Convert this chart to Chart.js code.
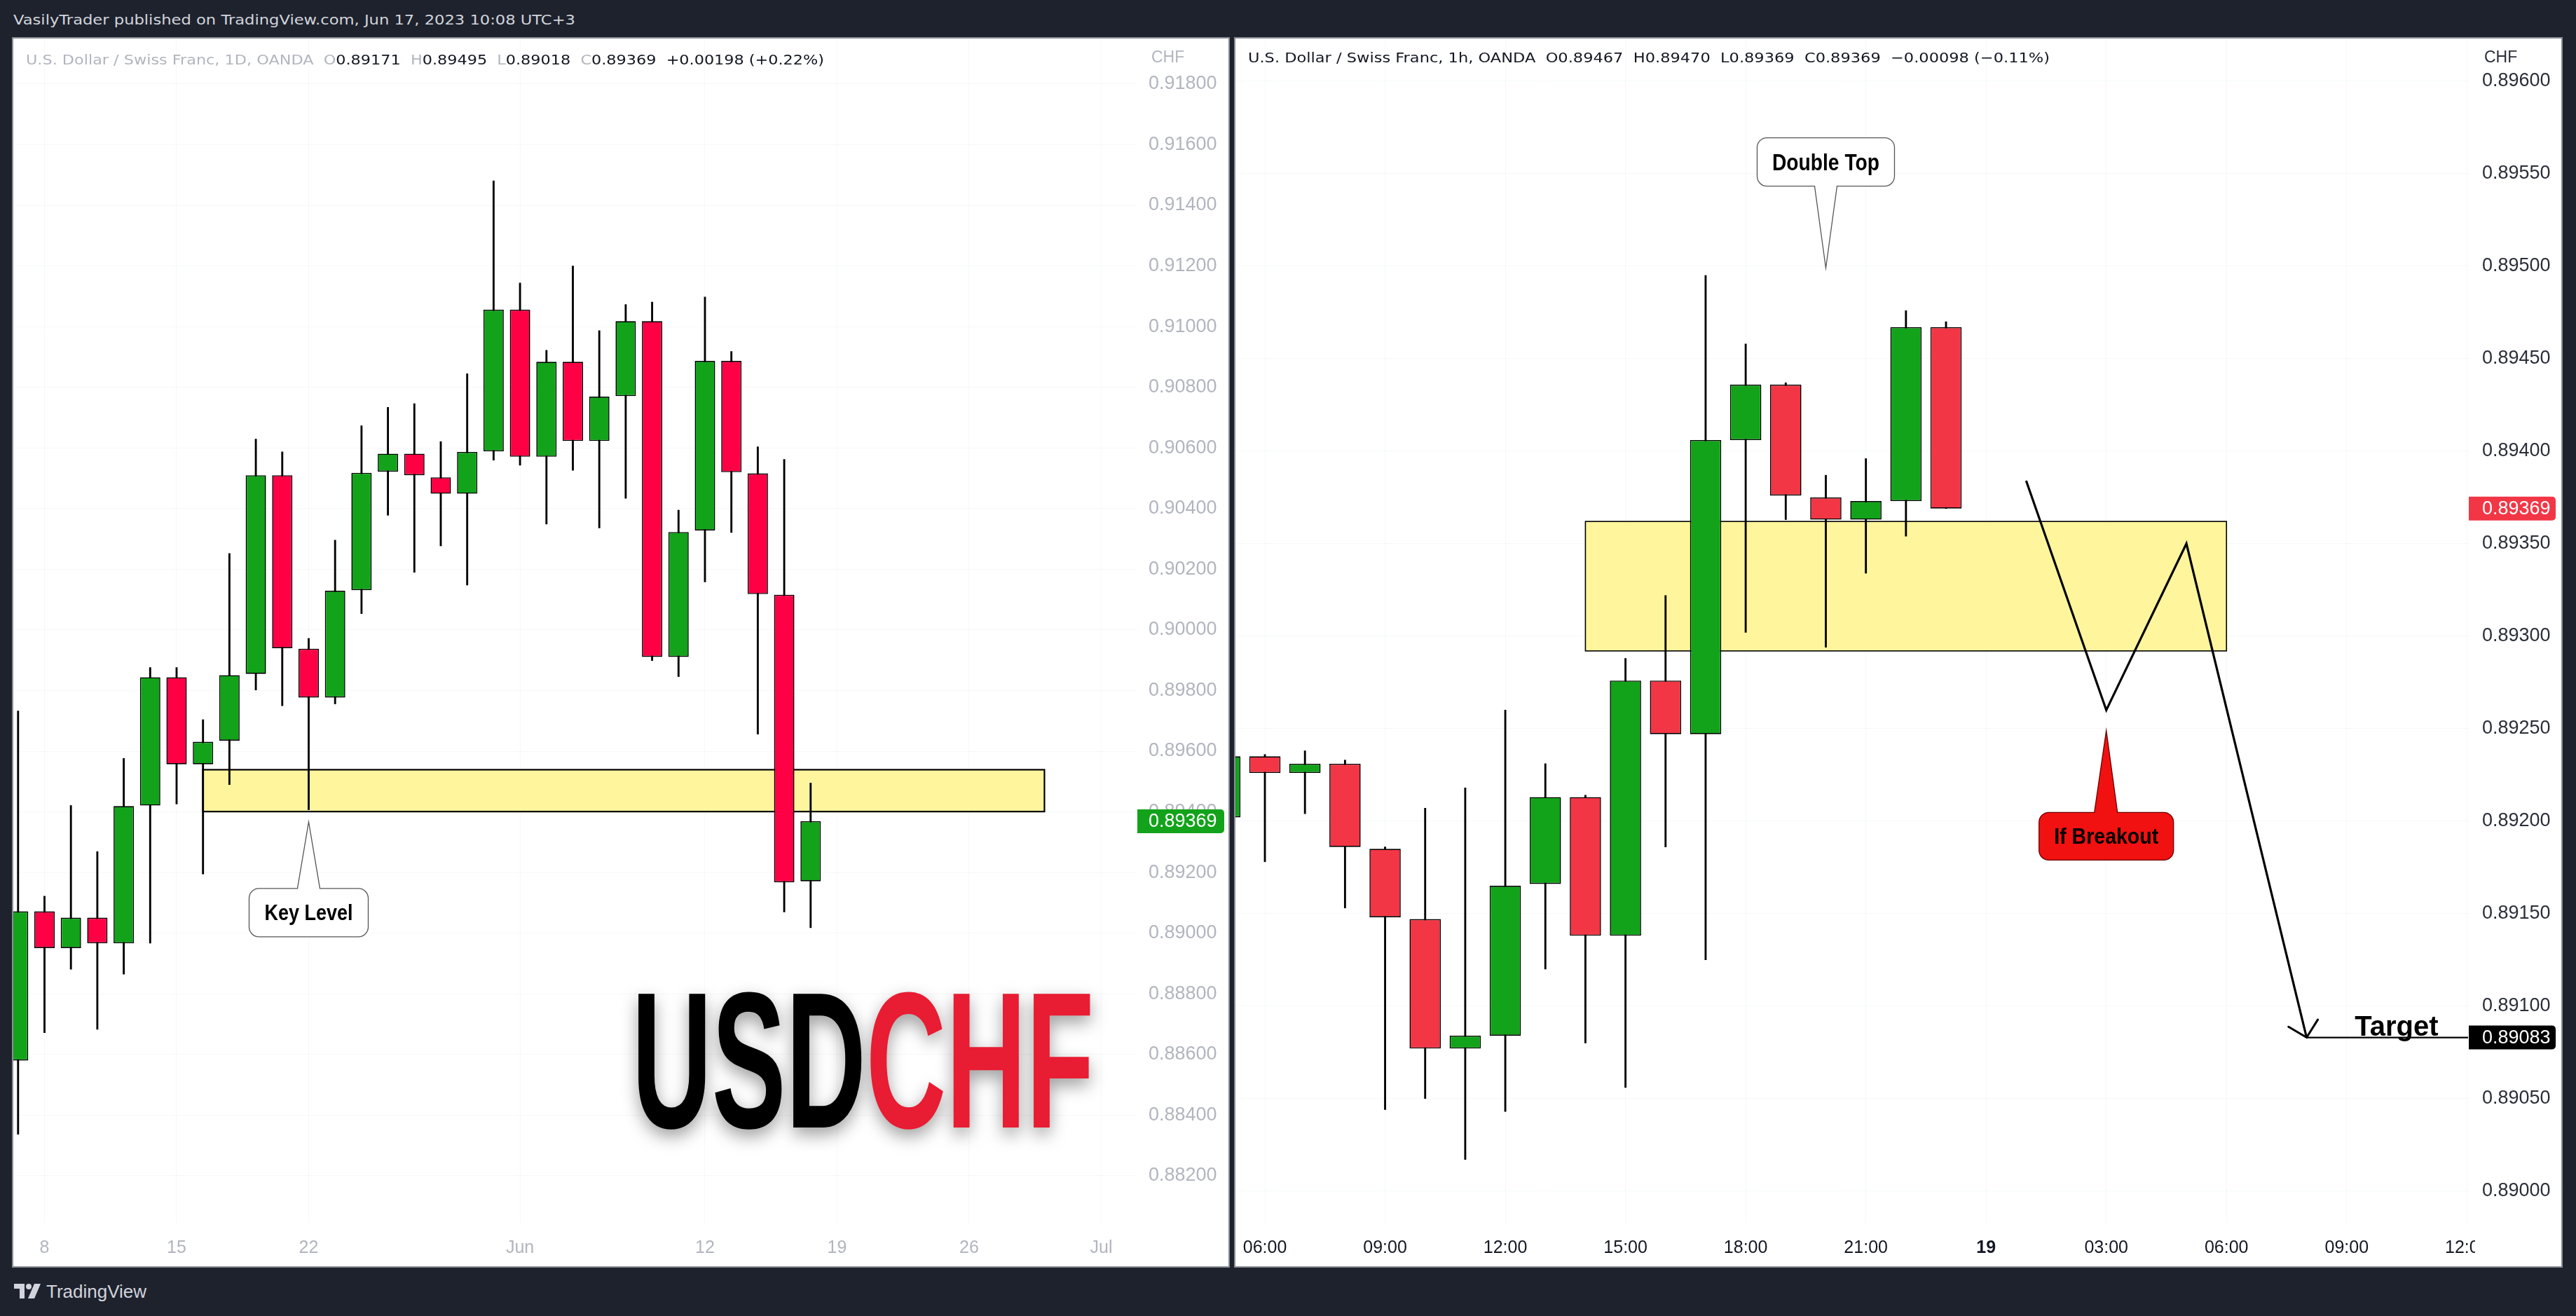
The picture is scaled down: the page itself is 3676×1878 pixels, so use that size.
<!DOCTYPE html>
<html><head><meta charset="utf-8">
<script src="https://cdn.jsdelivr.net/npm/chart.js@4.4.0/dist/chart.umd.min.js"></script>
<style>
html,body{margin:0;padding:0;background:#1e222d;width:3676px;height:1878px;overflow:hidden;font-family:"Liberation Sans",Arial,sans-serif;}
.panel{position:absolute;background:#fff;border:2px solid #8a8d96;box-sizing:border-box;}
.fit{position:absolute;white-space:pre;transform-origin:0 50%;line-height:1;}
.g{color:#b2b5be}
canvas{position:absolute;}
</style></head><body>
<div id="hdr" class="fit" style="left:19px;top:18px;font-size:20px;font-family:'DejaVu Sans';color:#d1d4dc">VasilyTrader published on TradingView.com, Jun 17, 2023 10:08 UTC+3</div>
<div class="panel" style="left:17px;top:53px;width:1738px;height:1756px"></div>
<div class="panel" style="left:1761px;top:53px;width:1896px;height:1756px"></div>
<canvas id="cL" style="left:19px;top:55px" width="1734" height="1752"></canvas>
<canvas id="cR" style="left:1763px;top:55px" width="1892" height="1752"></canvas>
<div id="legL" class="fit" style="left:37px;top:75px;font-size:20px;font-family:'DejaVu Sans';color:#131722"><span class="g">U.S. Dollar / Swiss Franc, 1D, OANDA  O</span>0.89171<span class="g">  H</span>0.89495<span class="g">  L</span>0.89018<span class="g">  C</span>0.89369  +0.00198 (+0.22%)</div>
<div id="legR" class="fit" style="left:1781px;top:72px;font-size:20px;font-family:'DejaVu Sans';color:#131722">U.S. Dollar / Swiss Franc, 1h, OANDA  O0.89467  H0.89470  L0.89369  C0.89369  −0.00098 (−0.11%)</div>
<div style="position:absolute;left:1643px;top:70px;font-size:23px;color:#b2b5be;line-height:1">CHF</div>
<div style="position:absolute;left:3545px;top:70px;font-size:23px;color:#2a2e39;line-height:1">CHF</div>
<svg style="position:absolute;left:20px;top:1832px" width="38" height="22" viewBox="0 0 38 22">
<path d="M0 0H15V21H8V7H0Z" fill="#d1d4dc"/><circle cx="21" cy="4" r="4" fill="#d1d4dc"/><path d="M29 0H38L29 21H20Z" fill="#d1d4dc"/></svg>
<div style="position:absolute;left:66px;top:1830px;font-size:26px;color:#d1d4dc;line-height:1">TradingView</div>
<script>
// ---------- Daily USD/CHF (left) ----------
const dayLabels = ['May 5','May 8','May 9','May 10','May 11','May 12','May 15','May 16','May 17','May 18','May 19','May 22','May 23','May 24','May 25','May 26','May 29','May 30','May 31','Jun 1','Jun 2','Jun 5','Jun 6','Jun 7','Jun 8','Jun 9','Jun 12','Jun 13','Jun 14','Jun 15','Jun 16'];
const dayOpen  = [0.88580,0.89072,0.88951,0.89051,0.88967,0.89421,0.89844,0.89557,0.89635,0.89855,0.90510,0.89938,0.89777,0.90131,0.90522,0.90581,0.90503,0.90449,0.90589,0.91056,0.90571,0.90884,0.90623,0.90771,0.91018,0.89911,0.90328,0.90887,0.90516,0.90116,0.89171];
const dayHigh  = [0.89733,0.89122,0.89421,0.89269,0.89576,0.89876,0.89876,0.89704,0.90252,0.90629,0.90587,0.89972,0.90296,0.90673,0.90734,0.90746,0.90621,0.90845,0.91481,0.91144,0.90922,0.91200,0.90987,0.91073,0.91081,0.90395,0.91098,0.90918,0.90604,0.90562,0.89495];
const dayLow   = [0.88337,0.88672,0.88881,0.88683,0.88865,0.88967,0.89426,0.89195,0.89490,0.89802,0.89750,0.89407,0.89756,0.90054,0.90378,0.90190,0.90277,0.90148,0.90560,0.90543,0.90349,0.90526,0.90336,0.90434,0.89899,0.89846,0.90158,0.90321,0.89656,0.89070,0.89018];
const dayClose = [0.89072,0.88951,0.89051,0.88967,0.89419,0.89844,0.89557,0.89631,0.89851,0.90510,0.89940,0.89777,0.90129,0.90518,0.90581,0.90510,0.90449,0.90587,0.91056,0.90571,0.90884,0.90623,0.90769,0.91018,0.89911,0.90323,0.90887,0.90520,0.90118,0.89168,0.89369];
const dayTickIdx    = [1,6,11,19,26,31,36,41];
const dayTickLabels = ['8','15','22','Jun','12','19','26','Jul'];
const dayPriceTicks = [0.882,0.884,0.886,0.888,0.890,0.892,0.894,0.896,0.898,0.900,0.902,0.904,0.906,0.908,0.910,0.912,0.914,0.916,0.918];
const dayRangeX = [-0.18, 42.34];
const dayRangeY = [0.88045, 0.91950];
const keyZoneX = [7, 38.85];
const keyZoneY = [0.89401, 0.89539];
const keyLevelTip = [11, 0.89367];

// ---------- Hourly USD/CHF (right) ----------
const hourIdx    = [-1,0,1,2,3,4,5,6,7,8,9,10,11,12,13,14,15,16,17];
const hourLabels = ['05:00','06:00','07:00','08:00','09:00','10:00','11:00','12:00','13:00','14:00','15:00','16:00','17:00','18:00','19:00','20:00','21:00','22:00','23:00'];
const hourOpen  = [0.89202,0.89235,0.89226,0.89231,0.89185,0.89147,0.89077,0.89084,0.89166,0.89213,0.89138,0.89276,0.89247,0.89406,0.89436,0.89375,0.89363,0.89373,0.89467];
const hourHigh  = [0.89240,0.89236,0.89238,0.89233,0.89186,0.89207,0.89218,0.89260,0.89231,0.89214,0.89288,0.89322,0.89495,0.89458,0.89437,0.89387,0.89396,0.89476,0.89470];
const hourLow   = [0.89195,0.89178,0.89204,0.89153,0.89044,0.89050,0.89017,0.89043,0.89120,0.89080,0.89056,0.89186,0.89125,0.89302,0.89363,0.89294,0.89334,0.89354,0.89369];
const hourClose = [0.89235,0.89226,0.89231,0.89186,0.89148,0.89077,0.89084,0.89165,0.89213,0.89138,0.89276,0.89247,0.89406,0.89436,0.89376,0.89363,0.89373,0.89467,0.89369];
const hourTickIdx    = [0,3,6,9,12,15,18,21,24,27,30];
const hourTickLabels = ['06:00','09:00','12:00','15:00','18:00','21:00','19','03:00','06:00','09:00','12:00'];
const hourPriceTicks = [0.8900,0.8905,0.8910,0.8915,0.8920,0.8925,0.8930,0.8935,0.8940,0.8945,0.8950,0.8955,0.8960];
const hourRangeX = [-0.735, 30.03];
const hourRangeY = [0.889828, 0.896231];
const hourZoneX = [8, 24];
const hourZoneY = [0.89292, 0.89362];
const pathX = [19, 21, 23, 26];
const pathY = [0.89384, 0.89260, 0.89350, 0.89083];
const targetPrice = 0.89083;
const targetLineX = [26, 30.03];
const targetLabelX = 27.2;
const doubleTopTip = [14, 0.89499];
const breakoutTip = [21, 0.89249];

// ---------- helpers ----------
const GREEN = '#12a31a', RED_L = '#ff0044', RED_R = '#f23645';
function fitText(ctx, text, cx, cy, size, width, color, weight){
  ctx.save();
  ctx.font = `${weight||'bold'} ${size}px "Liberation Sans", Arial, sans-serif`;
  const w = ctx.measureText(text).width;
  const sx = width / w;
  ctx.translate(cx, cy + size*0.358);
  ctx.scale(sx, 1);
  ctx.fillStyle = color; ctx.textAlign = 'center'; ctx.textBaseline = 'alphabetic';
  ctx.fillText(text, 0, 0);
  ctx.restore();
}
function callout(ctx, tx, ty, b, fill, stroke, text, tsize, twidth){
  const x0=tx+b.l, x1=tx+b.r, y0=ty+b.t, y1=ty+b.b, r=14, up=b.t>0;
  ctx.save();
  ctx.beginPath();
  ctx.moveTo(x0+r, y0);
  if(up){ ctx.lineTo(tx+b.bl, y0); ctx.lineTo(tx, ty); ctx.lineTo(tx+b.br, y0); }
  ctx.lineTo(x1-r, y0); ctx.arcTo(x1, y0, x1, y0+r, r);
  ctx.lineTo(x1, y1-r); ctx.arcTo(x1, y1, x1-r, y1, r);
  if(!up){ ctx.lineTo(tx+b.br, y1); ctx.lineTo(tx, ty); ctx.lineTo(tx+b.bl, y1); }
  ctx.lineTo(x0+r, y1); ctx.arcTo(x0, y1, x0, y1-r, r);
  ctx.lineTo(x0, y0+r); ctx.arcTo(x0, y0, x0+r, y0, r);
  ctx.closePath();
  ctx.fillStyle = fill; ctx.fill();
  ctx.lineWidth = 1.3; ctx.strokeStyle = stroke; ctx.stroke();
  ctx.restore();
  fitText(ctx, text, (x0+x1)/2, (y0+y1)/2, tsize, twidth, '#000');
}
function drawZone(chart, zx, zy, lw){
  const {ctx, scales:{x, y}} = chart;
  const l=x.getPixelForValue(zx[0]), r=x.getPixelForValue(zx[1]);
  const t=y.getPixelForValue(zy[1]), b=y.getPixelForValue(zy[0]);
  ctx.save();
  ctx.fillStyle = '#fff59d'; ctx.fillRect(l, t, r-l, b-t);
  ctx.lineWidth = lw; ctx.strokeStyle = '#000'; ctx.strokeRect(l, t, r-l, b-t);
  ctx.restore();
}
function priceTag(chart, value, bg){
  const {ctx, chartArea, scales:{y}} = chart;
  const py = y.getPixelForValue(value);
  const left = chartArea.right + 1, w = 124, h = 34;
  ctx.save();
  ctx.fillStyle = bg;
  ctx.beginPath(); ctx.roundRect(left, py-h/2, w, h, [0,5,5,0]); ctx.fill();
  ctx.fillStyle = '#fff'; ctx.font = '27px "Liberation Sans", Arial';
  ctx.textBaseline = 'middle'; ctx.textAlign = 'left';
  ctx.fillText(value.toFixed(5), chartArea.right + y.options.ticks.padding, py+1);
  ctx.restore();
}
function drawBrand(chart){
  const ctx = chart.ctx, a = chart.chartArea;
  const capH = 194, W = 647, X = a.left + 890, BASE = a.top + 1554;
  ctx.save();
  ctx.font = 'bold 100px "Liberation Sans", Arial';
  const h100 = ctx.measureText('H').actualBoundingBoxAscent;
  const size = 100*capH/h100;
  ctx.font = `bold ${size}px "Liberation Sans", Arial`;
  const m1 = ctx.measureText('USD'), m3 = ctx.measureText('USDCHF');
  const inkW = m3.actualBoundingBoxLeft + m3.actualBoundingBoxRight;
  const sx = W / inkW;
  ctx.translate(X, BASE); ctx.scale(sx, 1);
  const x0 = m3.actualBoundingBoxLeft;
  ctx.shadowColor = 'rgba(0,0,0,0.38)'; ctx.shadowBlur = 24; ctx.shadowOffsetY = 10;
  ctx.fillStyle = '#000'; ctx.fillText('USD', x0, 0);
  ctx.fillStyle = '#e81c32'; ctx.fillText('CHF', x0 + m1.width, 0);
  ctx.restore();
}
function axes(rangeX, rangeY, tickIdx, tickLabels, priceTicks, yWidth, yPad, labelColor, xLabelColor){
  return {
    x: { type:'linear', min:rangeX[0], max:rangeX[1], offset:false,
      grid:{ offset:false, color:'rgba(42,46,57,0.035)', drawTicks:false },
      border:{ display:false },
      afterBuildTicks: s => { s.ticks = tickIdx.map(v => ({value:v})); },
      afterFit: s => { s.height = 62; s.paddingLeft = 0; s.paddingRight = 0; s.paddingTop = 0; s.paddingBottom = 0; },
      ticks:{ autoSkip:false, maxRotation:0, padding:21, color:xLabelColor,
        callback: v => tickLabels[tickIdx.indexOf(v)],
        font: c => ({ size:25, family:'"Liberation Sans", Arial', weight: (c.tick && tickLabels[tickIdx.indexOf(c.tick.value)]==='19' && tickLabels.length>8) ? 'bold' : 'normal' }) }
    },
    y: { type:'linear', position:'right', min:rangeY[0], max:rangeY[1], beginAtZero:false,
      grid:{ color:'rgba(42,46,57,0.035)', drawTicks:false },
      border:{ display:false },
      afterBuildTicks: s => { s.ticks = priceTicks.map(v => ({value:v})); },
      afterFit: s => { s.width = yWidth; s.paddingTop = 0; s.paddingBottom = 0; s.paddingLeft = 0; s.paddingRight = 0; },
      ticks:{ autoSkip:false, padding:yPad, color:labelColor, crossAlign:'near',
        font:{ size:27, family:'"Liberation Sans", Arial' },
        callback: v => Number(v).toFixed(5) }
    }
  };
}
const commonOpts = {
  responsive:false, animation:false, devicePixelRatio:1,
  layout:{ padding:0 },
  plugins:{ legend:{display:false}, tooltip:{enabled:false} },
  events:[]
};

// ---------- left chart ----------
const leftDecor = {
  id:'leftDecor',
  beforeDatasetsDraw(chart){ drawZone(chart, keyZoneX, keyZoneY, 2.2); },
  afterDatasetsDraw(chart){
    const {ctx, scales:{x,y}} = chart;
    callout(ctx, x.getPixelForValue(keyLevelTip[0]), y.getPixelForValue(keyLevelTip[1]),
      {l:-85, r:85, t:95, b:164, bl:-16, br:16}, '#ffffff', '#555', 'Key Level', 31, 126);
    drawBrand(chart);
  },
  afterDraw(chart){ priceTag(chart, dayClose[dayClose.length-1], '#12a31a'); }
};
new Chart(document.getElementById('cL'), {
  type:'bar',
  data:{ datasets:[
    { label:'body', grouped:false, categoryPercentage:1, barPercentage:0.77,
      data: dayOpen.map((o,i) => ({x:i, y:[o, dayClose[i]]})),
      backgroundColor: dayOpen.map((o,i) => dayClose[i] >= o ? GREEN : RED_L),
      borderColor:'#000', borderWidth:1.6, borderSkipped:false },
    { label:'wick', grouped:false, barThickness:2.2,
      data: dayLow.map((l,i) => ({x:i, y:[l, dayHigh[i]]})),
      backgroundColor:'#000', borderWidth:0 }
  ]},
  options: Object.assign({}, commonOpts, {
    scales: axes(dayRangeX, dayRangeY, dayTickIdx, dayTickLabels, dayPriceTicks, 131, 17, '#b2b5be', '#b2b5be')
  }),
  plugins:[leftDecor]
});

// ---------- right chart ----------
const rightDecor = {
  id:'rightDecor',
  beforeDatasetsDraw(chart){ drawZone(chart, hourZoneX, hourZoneY, 1.6); },
  afterDatasetsDraw(chart){
    const {ctx, scales:{x,y}} = chart;
    const n = pathX.length;
    const ex = x.getPixelForValue(pathX[n-1]), ey = y.getPixelForValue(pathY[n-1]);
    const sx = x.getPixelForValue(pathX[n-2]), sy = y.getPixelForValue(pathY[n-2]);
    const ang = Math.atan2(sy-ey, sx-ex);
    ctx.save(); ctx.strokeStyle = '#000'; ctx.lineWidth = 3; ctx.lineCap = 'round';
    ctx.beginPath();
    ctx.moveTo(ex + 30*Math.cos(ang+0.8), ey + 30*Math.sin(ang+0.8)); ctx.lineTo(ex, ey);
    ctx.lineTo(ex + 30*Math.cos(ang-0.8), ey + 30*Math.sin(ang-0.8));
    ctx.stroke(); ctx.restore();
    ctx.save(); ctx.font = 'bold 40px "Liberation Sans", Arial'; ctx.fillStyle = '#000';
    ctx.textBaseline = 'alphabetic'; ctx.textAlign = 'left';
    ctx.fillText('Target', x.getPixelForValue(targetLabelX), y.getPixelForValue(targetPrice) - 3);
    ctx.restore();
    callout(ctx, x.getPixelForValue(doubleTopTip[0]), y.getPixelForValue(doubleTopTip[1]),
      {l:-98, r:98, t:-186, b:-117, bl:-16, br:16}, '#ffffff', '#555', 'Double Top', 33, 153);
    callout(ctx, x.getPixelForValue(breakoutTip[0]), y.getPixelForValue(breakoutTip[1]),
      {l:-96, r:96, t:117, b:185, bl:-17, br:16}, '#f21111', '#6a0000', 'If Breakout', 31, 149);
  },
  afterDraw(chart){
    const {ctx, chartArea} = chart;
    // price scale is opaque: it hides the part of the last time label that runs under it
    ctx.save(); ctx.fillStyle = '#fff';
    ctx.fillRect(chartArea.right + 10, chartArea.bottom + 1, chart.width - chartArea.right - 10, chart.height - chartArea.bottom - 1);
    ctx.restore();
    priceTag(chart, hourClose[hourClose.length-1], RED_R);
    priceTag(chart, targetPrice, '#000000');
  }
};
new Chart(document.getElementById('cR'), {
  type:'bar',
  data:{ datasets:[
    { type:'line', label:'path', data: pathX.map((v,i) => ({x:v, y:pathY[i]})),
      borderColor:'#000', borderWidth:3.2, pointRadius:0, tension:0, borderJoinStyle:'miter' },
    { type:'line', label:'target', data: targetLineX.map(v => ({x:v, y:targetPrice})),
      borderColor:'#000', borderWidth:2.2, pointRadius:0 },
    { label:'body', grouped:false, categoryPercentage:1, barPercentage:0.78,
      data: hourOpen.map((o,i) => ({x:hourIdx[i], y:[o, hourClose[i]]})),
      backgroundColor: hourOpen.map((o,i) => hourClose[i] >= o ? GREEN : RED_R),
      borderColor:'#000', borderWidth:1.6, borderSkipped:false },
    { label:'wick', grouped:false, barThickness:2.2,
      data: hourLow.map((l,i) => ({x:hourIdx[i], y:[l, hourHigh[i]]})),
      backgroundColor:'#000', borderWidth:0 }
  ]},
  options: Object.assign({}, commonOpts, {
    scales: axes(hourRangeX, hourRangeY, hourTickIdx, hourTickLabels, hourPriceTicks, 133, 20, '#2a2e39', '#131722')
  }),
  plugins:[rightDecor]
});

// ---------- fit header / legend text widths ----------
function fit(id, w){ const el = document.getElementById(id); const r = el.getBoundingClientRect().width; el.style.transform = `scaleX(${w/r})`; }
fit('hdr', 802); fit('legL', 1139); fit('legR', 1144);
</script>
</body></html>
